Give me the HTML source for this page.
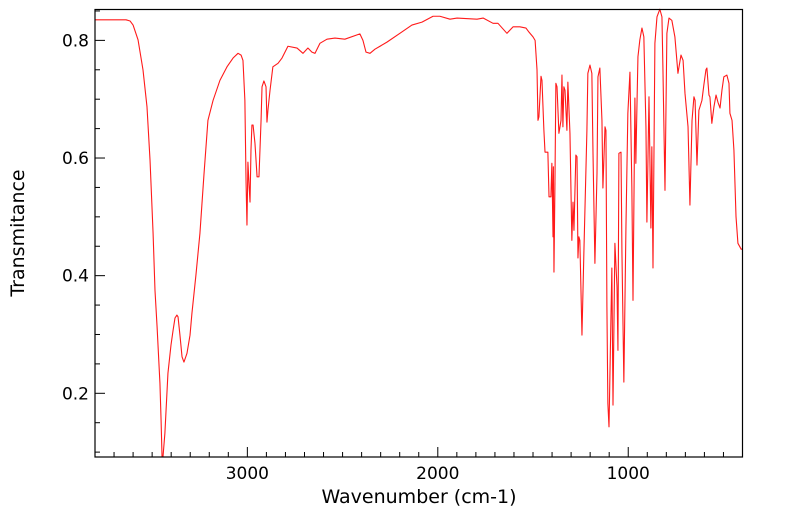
<!DOCTYPE html>
<html><head><meta charset="utf-8"><style>
html,body{margin:0;padding:0;background:#fff;}
svg{display:block;font-family:"DejaVu Sans","Liberation Sans",sans-serif;}
</style></head><body>
<svg id="chart" width="799" height="516" viewBox="0 0 799 516">
<g id="axes"></g>
<path id="spectrum" fill="none" stroke="#ff1a1a" stroke-width="1.1" stroke-linejoin="round"></path>
<rect x="95" y="9.5" width="647.5" height="447.5" fill="none" stroke="#000" stroke-width="1.2"></rect>
<text x="419" y="503" text-anchor="middle" font-size="19">Wavenumber (cm-1)</text>
<text transform="translate(24,233) rotate(-90)" text-anchor="middle" font-size="19">Transmitance</text>
</svg>
<script>
const wavenumber = [3800,3721,3679,3637,3616,3600,3574,3548,3527,3511,3495,3485,3474,3459,3453,3448,3443,3433,3417,3401,3390,3380,3370,3364,3354,3343,3333,3317,3301,3291,3270,3249,3228,3207,3180,3144,3107,3075,3049,3033,3023,3013,3007,3002,2997,2991,2986,2981,2976,2970,2960,2949,2939,2928,2923,2913,2902,2897,2892,2881,2866,2839,2818,2787,2739,2708,2682,2661,2645,2619,2582,2540,2488,2409,2393,2377,2356,2330,2267,2199,2136,2083,2025,1989,1936,1899,1794,1762,1710,1684,1637,1605,1569,1537,1521,1500,1489,1479,1474,1469,1458,1453,1443,1437,1422,1416,1406,1401,1395,1393,1390,1385,1380,1374,1364,1353,1348,1343,1338,1332,1322,1317,1306,1296,1290,1285,1275,1269,1264,1259,1254,1243,1233,1217,1212,1201,1191,1185,1175,1164,1159,1149,1138,1133,1122,1117,1112,1107,1101,1091,1086,1080,1070,1059,1054,1049,1038,1033,1023,1012,1002,991,981,975,965,960,954,949,939,928,918,907,902,891,881,876,870,860,849,834,823,818,807,797,786,771,755,739,723,712,702,686,676,665,655,649,639,629,613,603,592,587,576,571,561,550,539,529,518,508,498,482,471,466,455,445,434,424,407,401];
const transmittance = [0.835,0.835,0.835,0.835,0.833,0.826,0.801,0.750,0.687,0.596,0.472,0.375,0.313,0.217,0.154,0.092,0.092,0.132,0.234,0.282,0.307,0.328,0.333,0.330,0.299,0.262,0.253,0.268,0.299,0.336,0.401,0.472,0.571,0.664,0.698,0.732,0.755,0.770,0.778,0.775,0.766,0.698,0.562,0.486,0.593,0.554,0.525,0.613,0.656,0.656,0.625,0.568,0.568,0.664,0.721,0.731,0.721,0.661,0.681,0.715,0.755,0.761,0.770,0.790,0.787,0.778,0.787,0.780,0.778,0.795,0.802,0.804,0.802,0.811,0.800,0.780,0.778,0.785,0.797,0.812,0.826,0.831,0.841,0.841,0.836,0.838,0.836,0.838,0.829,0.829,0.812,0.823,0.823,0.821,0.814,0.806,0.800,0.750,0.664,0.670,0.739,0.732,0.648,0.610,0.610,0.534,0.534,0.591,0.466,0.585,0.406,0.551,0.727,0.721,0.642,0.664,0.741,0.653,0.721,0.715,0.647,0.729,0.642,0.460,0.525,0.477,0.605,0.602,0.430,0.466,0.460,0.299,0.438,0.647,0.744,0.758,0.744,0.608,0.421,0.574,0.738,0.753,0.664,0.549,0.653,0.647,0.347,0.183,0.143,0.325,0.413,0.180,0.455,0.381,0.273,0.608,0.610,0.438,0.219,0.483,0.676,0.746,0.551,0.358,0.702,0.591,0.693,0.772,0.801,0.821,0.806,0.653,0.491,0.704,0.481,0.619,0.413,0.795,0.840,0.853,0.840,0.755,0.545,0.812,0.838,0.834,0.806,0.744,0.775,0.766,0.710,0.653,0.520,0.664,0.704,0.698,0.588,0.681,0.698,0.724,0.750,0.753,0.707,0.704,0.659,0.687,0.707,0.695,0.685,0.715,0.738,0.741,0.727,0.676,0.664,0.613,0.500,0.455,0.445,0.445];
const xTickLabels = [3000,2000,1000];
const yTickLabels = [0.2,0.4,0.6,0.8];

const X0=95, X1=742.5, Y0=9.5, Y1=457;
const W_MAX=3800, W_MIN=400, T_TOP=0.8525, T_BOT=0.0917;
function xs(w){return X0+(W_MAX-w)/(W_MAX-W_MIN)*(X1-X0);}
function ys(t){return Y0+(T_TOP-t)/(T_TOP-T_BOT)*(Y1-Y0);}
const NS='http://www.w3.org/2000/svg';
const axes=document.getElementById('axes');
function line(x1,y1,x2,y2,name){
  const l=document.createElementNS(NS,'line');
  l.setAttribute('x1',x1);l.setAttribute('y1',y1);l.setAttribute('x2',x2);l.setAttribute('y2',y2);
  l.setAttribute('stroke','#000');l.setAttribute('stroke-width','1');
  
  
  axes.appendChild(l);
}
function text(x,y,s,anchor,name){
  const t=document.createElementNS(NS,'text');
  t.setAttribute('x',x);t.setAttribute('y',y);t.setAttribute('text-anchor',anchor);
  t.setAttribute('font-size','17');t.textContent=s;
  
  
  axes.appendChild(t);
}
for(let w=3800;w>=400;w-=100){
  const major=xTickLabels.indexOf(w)>=0;
  line(xs(w),Y1,xs(w),Y1-(major?10:5),'x-tick');
}
xTickLabels.forEach(v=>text(xs(v),479,String(v),'middle','x-tick-label'));
for(let k=2;k<=17;k++){
  const t=k*0.05;
  const major=(k%4===0);
  if(t<T_BOT||t>T_TOP) continue;
  line(X0,ys(t),X0+(major?10:5),ys(t),'y-tick');
}
yTickLabels.forEach(v=>text(89,ys(v)+6,v.toFixed(1),'end','y-tick-label'));
let d='';
for(let i=0;i<wavenumber.length;i++){
  d+=(i?'L':'M')+xs(wavenumber[i]).toFixed(2)+','+ys(transmittance[i]).toFixed(2);
}
document.getElementById('spectrum').setAttribute('d',d);
</script>
</body></html>
